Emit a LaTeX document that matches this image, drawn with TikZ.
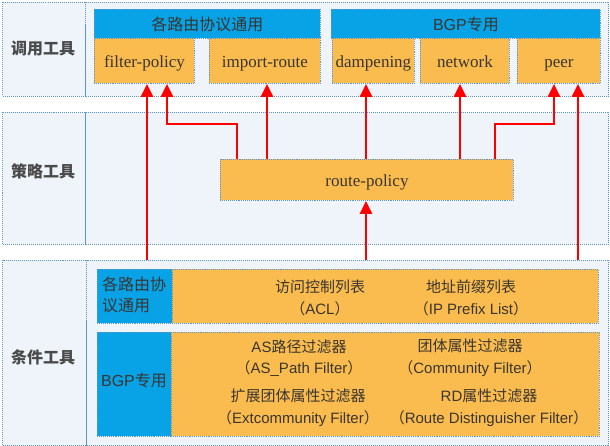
\documentclass[tikz,border=0pt]{standalone}
\usepackage{fontspec}
\setmainfont{Liberation Serif}
\newfontfamily\cjk{Noto Sans CJK SC}
\newfontfamily\arial{Liberation Sans}
\usetikzlibrary{arrows.meta}
\definecolor{orng}{HTML}{FABC4E}
\definecolor{blu}{HTML}{07A3E6}
\definecolor{bandbg}{HTML}{EEF4FA}
\definecolor{brd}{HTML}{5F93CC}
\definecolor{txt}{HTML}{3A3530}
\definecolor{lbl}{HTML}{4A4A4A}
\newcommand{\fwp}[1]{{\cjk （}#1{\cjk ）}}
\begin{document}
\begin{tikzpicture}[x=1pt,y=-1pt,
  band/.style={draw=brd, densely dotted, line width=1pt, fill=bandbg, anchor=north west, inner sep=0pt},
  obox/.style={draw=brd, densely dotted, line width=0.9pt, fill=orng, anchor=north west, inner sep=0pt, text=txt},
  bbox/.style={draw=brd, densely dotted, line width=0.9pt, fill=blu, anchor=north west, inner sep=0pt, text=txt},
  toptext/.style={font=\fontsize{17}{20}\selectfont, text height=15pt, text depth=2pt},
  sidelabel/.style={text=lbl, font=\cjk\bfseries\fontsize{16}{18}\selectfont},
  ctext/.style={text=txt, align=center, font=\arial\fontsize{15}{21.5}\selectfont, inner sep=0pt},
  arr/.style={draw=red, line width=2.8pt, -{Triangle[length=13pt,width=12pt]}}
]
\useasboundingbox (0,0) rectangle (610,446);
\fill[white] (0,0) rectangle (610,446);

% bands
\node[band, minimum width=83, minimum height=94] (c1) at (2,2) {};
\node[band, minimum width=523, minimum height=94] (r1) at (85,2) {};
\node[band, minimum width=83, minimum height=132] (c2) at (2,112) {};
\node[band, minimum width=523, minimum height=132] (r2) at (85,112) {};
\node[band, minimum width=84, minimum height=185] (c3) at (2,260) {};
\node[band, minimum width=522, minimum height=185] (r3) at (86,260) {};

\node[sidelabel] (l1) at (43,49) {调用工具};
\node[sidelabel] (l2) at (43,171) {策略工具};
\node[sidelabel] (l3) at (43,357) {条件工具};

% top band
\node[bbox, minimum width=226, minimum height=29] (h1) at (94,9) {};
\node[text=txt, font=\cjk\fontsize{16}{18}\selectfont] (h1t) at (h1.center) {各路由协议通用};
\node[bbox, minimum width=269, minimum height=29] (h2) at (331,9) {};
\node[text=txt, font=\arial\fontsize{16}{18}\selectfont] (h2t) at (h2.center) {BGP{\cjk 专用}};

\node[obox, minimum width=100, minimum height=45, toptext] (fp) at (94,38) {filter-policy};
\node[obox, minimum width=111, minimum height=45, toptext] (ir) at (209,38) {import-route};
\node[obox, minimum width=82, minimum height=45, toptext] (dp) at (332,38) {dampening};
\node[obox, minimum width=89, minimum height=45, toptext] (nw) at (420,38) {network};
\node[obox, minimum width=83, minimum height=45, toptext] (pr) at (517,38) {peer};

% middle band
\node[obox, minimum width=293, minimum height=41, toptext] (rp) at (220,159) {route-policy};

% bottom band
\node[bbox, minimum width=75, minimum height=54] (b1) at (97,269) {};
\node[obox, minimum width=426, minimum height=54] (o1) at (172,269) {};
\node[bbox, minimum width=74, minimum height=104] (b2) at (97,332) {};
\node[obox, minimum width=428, minimum height=104] (o2) at (171,332) {};

\node[text=txt, align=left, anchor=west, inner sep=0pt, font=\cjk\fontsize{16}{21}\selectfont] (b1t) at (102,295) {各路由协\\议通用};
\node[text=txt, font=\arial\fontsize{16}{18}\selectfont, inner sep=0pt] (b2t) at (134,380) {BGP{\cjk 专用}};

\node[ctext] (acl) at (320,298) {{\cjk 访问控制列表}\\\fwp{ACL}};
\node[ctext] (ipp) at (471,298) {{\cjk 地址前缀列表}\\\fwp{IP Prefix List}};
\node[ctext] (asp) at (299,358) {AS{\cjk 路径过滤器}\\\fwp{AS\_Path Filter}};
\node[ctext] (com) at (470,358) {{\cjk 团体属性过滤器}\\\fwp{Community Filter}};
\node[ctext] (ext) at (298,408) {{\cjk 扩展团体属性过滤器}\\\fwp{Extcommunity Filter}};
\node[ctext] (rdf) at (489,408) {RD{\cjk 属性过滤器}\\\fwp{Route Distinguisher Filter}};

% x positions
\coordinate (xa) at (147,0);
\coordinate (xb) at (167,0);
\coordinate (xc) at (237,0);
\coordinate (xd) at (267,0);
\coordinate (xe) at (366,0);
\coordinate (xf) at (460,0);
\coordinate (xg) at (495,0);
\coordinate (xh) at (554,0);
\coordinate (xi) at (578,0);
\coordinate (yk) at (0,124);

% arrows
\draw[arr] (xa |- r3.north) -- (xa |- fp.south);
\draw[arr] (xc |- rp.north) -- (xc |- yk) -- (xb |- yk) -- (xb |- fp.south);
\draw[arr] (xd |- rp.north) -- (xd |- ir.south);
\draw[arr] (xe |- rp.north) -- (xe |- dp.south);
\draw[arr] (xf |- rp.north) -- (xf |- nw.south);
\draw[arr] (xg |- rp.north) -- (xg |- yk) -- (xh |- yk) -- (xh |- pr.south);
\draw[arr] (xi |- r3.north) -- (xi |- pr.south);
\draw[arr] (xe |- r3.north) -- (xe |- rp.south);
\end{tikzpicture}
\end{document}
